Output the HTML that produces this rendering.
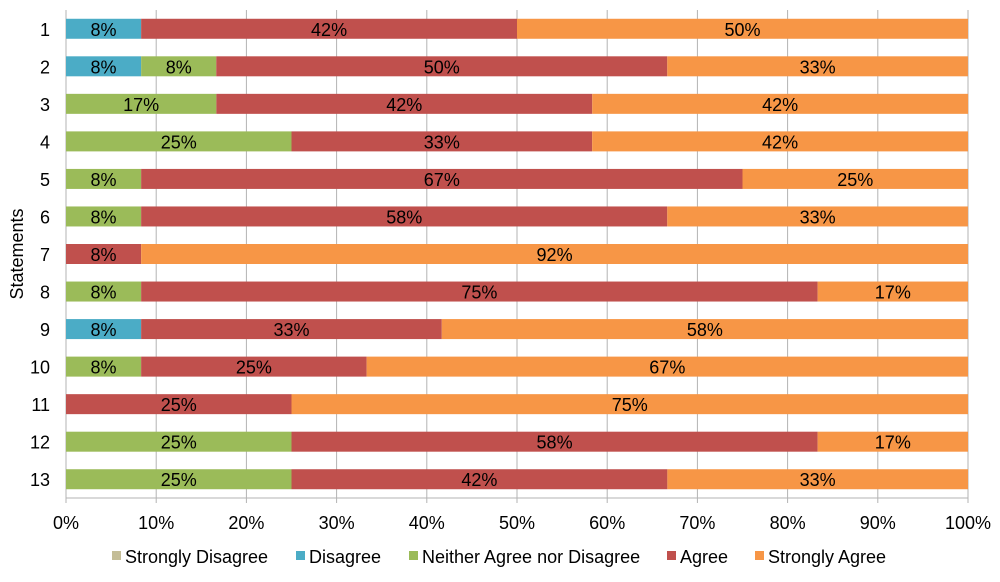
<!DOCTYPE html>
<html><head><meta charset="utf-8"><style>
body{margin:0;background:#fff;font-family:"Liberation Sans",sans-serif}
svg text{font-family:"Liberation Sans",sans-serif}
</style></head><body>
<svg id="c" width="1000" height="577"></svg>
<script>
const categories=["1","2","3","4","5","6","7","8","9","10","11","12","13"];
const seriesNames=["Strongly Disagree","Disagree","Neither Agree nor Disagree","Agree","Strongly Agree"];
const stronglyDisagree=[0,0,0,0,0,0,0,0,0,0,0,0,0];
const disagree=[8.33,8.33,0,0,0,0,0,0,8.33,0,0,0,0];
const neither=[0,8.33,16.67,25,8.33,8.33,0,8.33,0,8.33,0,25,25];
const agree=[41.67,50,41.67,33.33,66.67,58.33,8.33,75,33.33,25,25,58.33,41.67];
const stronglyAgree=[50,33.33,41.67,41.67,25,33.33,91.67,16.67,58.33,66.67,75,16.67,33.33];
const xTicks=[0,10,20,30,40,50,60,70,80,90,100];
const colors=["#C4BD97","#4BACC6","#9BBB59","#C0504D","#F79646"];
const NS="http://www.w3.org/2000/svg";
const svg=document.getElementById('c');
const L=66,R=968,T=10,B=498;
const FS=18;
const x=v=>L+(R-L)*v/100;
const band=(B-T)/categories.length;
const yc=i=>T+band*(i+0.5);
function mk(t,a,p){const e=document.createElementNS(NS,t);for(const k in a)e.setAttribute(k,a[k]);(p||svg).appendChild(e);return e;}
const grid=mk('g',{});


xTicks.forEach(t=>{
  const l=mk('line',{x1:x(t),x2:x(t),y1:T,y2:B+5,stroke:'#b3b3b3','stroke-width':1},grid);
  
  
  const tx=mk('text',{x:x(t),y:529,'text-anchor':'middle','font-size':FS,fill:'#000'});
  tx.textContent=t+'%';
  
  
});
const ax=mk('line',{x1:L,x2:R,y1:B,y2:B,stroke:'#b3b3b3'});


const series=[stronglyDisagree,disagree,neither,agree,stronglyAgree];
categories.forEach((c,i)=>{
  let acc=0;const cy=yc(i);
  series.forEach((s,k)=>{
    const v=s[i];
    if(v>0){
      const r=mk('rect',{x:x(acc),y:cy-10,width:x(acc+v)-x(acc),height:20,fill:colors[k]});
      
      
      const t=mk('text',{x:(x(acc)+x(acc+v))/2,y:cy+7,'text-anchor':'middle','font-size':FS,fill:'#000'});
      t.textContent=Math.round(v)+'%';
      
      
    }
    acc+=v;
  });
  const yl=mk('text',{x:50,y:cy+7,'text-anchor':'end','font-size':FS,fill:'#000'});
  yl.textContent=c;
  
  
});
const yt=mk('text',{x:0,y:0,transform:'translate(23,254) rotate(-90)','text-anchor':'middle','font-size':FS,fill:'#000'});
yt.textContent='Statements';


const lx=[112,296,409,667,755];
seriesNames.forEach((n,k)=>{
  const r=mk('rect',{x:lx[k],y:551,width:9,height:9,fill:colors[k]});
  
  
  const t=mk('text',{x:lx[k]+13,y:563,'font-size':FS,fill:'#000'});
  t.textContent=n;
  
  
});
</script>
</body></html>
